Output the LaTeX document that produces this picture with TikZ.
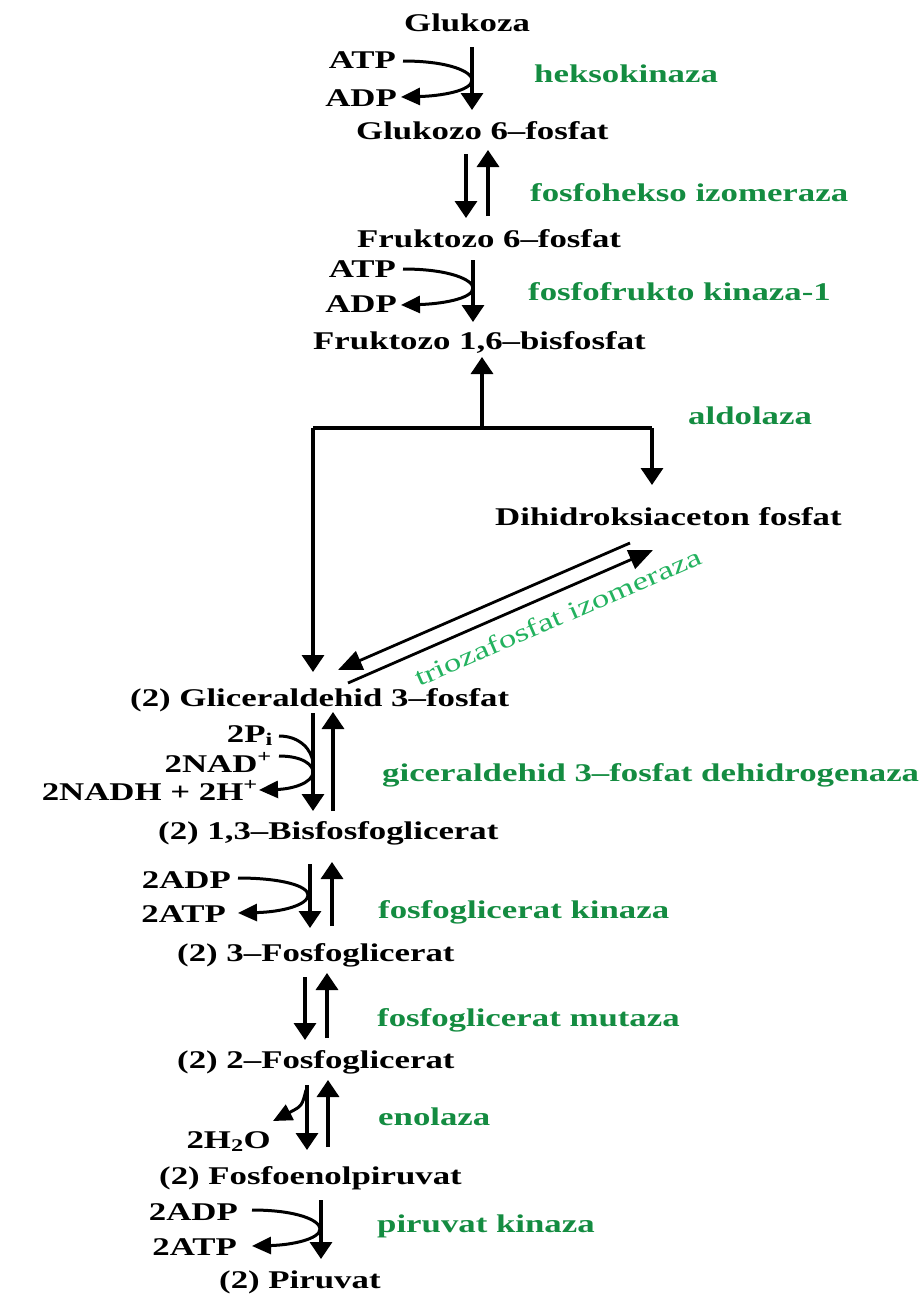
\documentclass[tikz,border=0pt]{standalone}
\usepackage{fontspec}
\setmainfont[FakeStretch=1.365]{Liberation Serif}
\usetikzlibrary{arrows.meta}
\definecolor{enz}{RGB}{20,140,65}
\definecolor{enzl}{RGB}{35,178,95}
\begin{document}
\begin{tikzpicture}[x=1pt,y=-1pt,
  txt/.style={font=\fontsize{25.5}{30}\selectfont\bfseries, inner sep=0pt},
  mol/.style={txt, anchor=base west},
  cof/.style={txt, anchor=base east},
  enzlab/.style={txt, text=enz, anchor=base west},
  arr/.style={line width=3.4pt, -{Triangle[width=22pt,length=17pt]}},
  carr/.style={line width=3pt, -{Triangle[width=17pt,length=19pt]}},
  cl/.style={line width=3pt},
  ln/.style={line width=3.2pt},
  darr/.style={line width=2.8pt, -{Triangle[width=20pt,length=24pt]}}]
\useasboundingbox (0,0) rectangle (924,1294);

% ---- molecules ----
\node[mol] (glc) at (404,31) {Glukoza};
\node[mol] (g6p) at (356,139) {Glukozo 6--fosfat};
\node[mol] (f6p) at (357,247) {Fruktozo 6--fosfat};
\node[mol] (f16) at (313,349) {Fruktozo 1,6--bisfosfat};
\node[mol] (dhap) at (495,525) {Dihidroksiaceton fosfat};
\node[mol] (gap) at (130,706) {(2) Gliceraldehid 3--fosfat};
\node[mol] (bpg) at (158,839) {(2) 1,3--Bisfosfoglicerat};
\node[mol] (pg3) at (177,961) {(2) 3--Fosfoglicerat};
\node[mol] (pg2) at (177,1068) {(2) 2--Fosfoglicerat};
\node[mol] (pep) at (159,1184) {(2) Fosfoenolpiruvat};
\node[mol] (pyr) at (219,1288) {(2) Piruvat};

% ---- cofactors ----
\node[cof] (atp1) at (396,68) {ATP};
\node[cof] (adp1) at (397,106) {ADP};
\node[cof] (atp2) at (396,277) {ATP};
\node[cof] (adp2) at (397,312) {ADP};
\node[cof] (pi) at (273,742) {2P\textsubscript{i}};
\node[cof] (nad) at (272,772) {2NAD\textsuperscript{+}};
\node[cof] (nadh) at (258,800) {2NADH + 2H\textsuperscript{+}};
\node[cof] (adp3) at (231,888) {2ADP};
\node[cof] (atp3) at (226,922) {2ATP};
\node[cof] (h2o) at (271,1148) {2H\textsubscript{2}O};
\node[cof] (adp4) at (238,1220) {2ADP};
\node[cof] (atp4) at (237,1255) {2ATP};

% ---- enzymes ----
\node[enzlab] (e1) at (534,82) {heksokinaza};
\node[enzlab] (e2) at (530,201) {fosfohekso izomeraza};
\node[enzlab] (e3) at (528,300) {fosfofrukto kinaza-1};
\node[enzlab] (e4) at (688,424) {aldolaza};
\node[txt, text=enzl, font=\fontsize{25.5}{30}\selectfont, anchor=base west, rotate=23.5] (e5) at (419,687) {triozafosfat izomeraza};
\node[enzlab] (e6) at (382,781) {giceraldehid 3--fosfat dehidrogenaza};
\node[enzlab] (e7) at (378,918) {fosfoglicerat kinaza};
\node[enzlab] (e8) at (377,1026) {fosfoglicerat mutaza};
\node[enzlab] (e9) at (378,1125) {enolaza};
\node[enzlab] (e10) at (377,1232) {piruvat kinaza};

% ---- Glukoza -> G6P ----
\coordinate (s1a) at (472,47);
\coordinate (s1b) at (472,110);
\draw[arr] (s1a) -- (s1b);
\draw[carr] (403,61) .. controls (450,61) and (472,72) .. (472,80)
   .. controls (472,91) and (440,96) .. (401,97);
% ---- G6P <-> F6P ----
\draw[arr] (466,154) -- (466,218);
\draw[arr] (488,216) -- (488,150);
% ---- F6P -> F16BP ----
\draw[arr] (473,260) -- (473,322);
\draw[carr] (403,269) .. controls (450,269) and (473,280) .. (473,288)
   .. controls (473,299) and (440,304) .. (401,305);
% ---- aldolase ----
\coordinate (bl) at (313,428);
\coordinate (br) at (652,428);
\coordinate (bm) at (482,428);
\draw[arr] (bm) -- (482,357);
\draw[ln] (bl) -- (br);
\draw[arr] (bl) -- (313,672);
\draw[arr] (br) -- (652,485);
% ---- triose isomerase ----
\draw[darr] (630,543) -- (338,670);
\draw[darr] (348,683) -- (653,550);
% ---- GAP <-> BPG ----
\draw[arr] (313,713) -- (313,811);
\draw[arr] (333,811) -- (333,712);
\draw[cl] (279,736) .. controls (300,736) and (312,750) .. (313,763);
\draw[carr] (279,756) .. controls (303,756) and (313,765) .. (313,772)
   .. controls (313,783) and (292,789) .. (259,790);
% ---- BPG <-> 3PG ----
\draw[arr] (310,864) -- (310,928);
\draw[arr] (332,926) -- (332,862);
\draw[carr] (238,878) .. controls (282,878) and (308,886) .. (308,895)
   .. controls (308,905) and (282,912) .. (238,913);
% ---- 3PG <-> 2PG ----
\draw[arr] (305,977) -- (305,1040);
\draw[arr] (327,1038) -- (327,973);
% ---- enolase ----
\draw[arr] (307,1085) -- (307,1150);
\draw[arr] (328,1147) -- (328,1080);
\draw[carr] (306,1090) .. controls (302,1106) .. (273,1121);
% ---- PEP -> Pyr ----
\draw[arr] (321,1200) -- (321,1259);
\draw[carr] (252,1210) .. controls (296,1210) and (320,1220) .. (320,1229)
   .. controls (320,1239) and (292,1245) .. (252,1246);
\end{tikzpicture}
\end{document}
